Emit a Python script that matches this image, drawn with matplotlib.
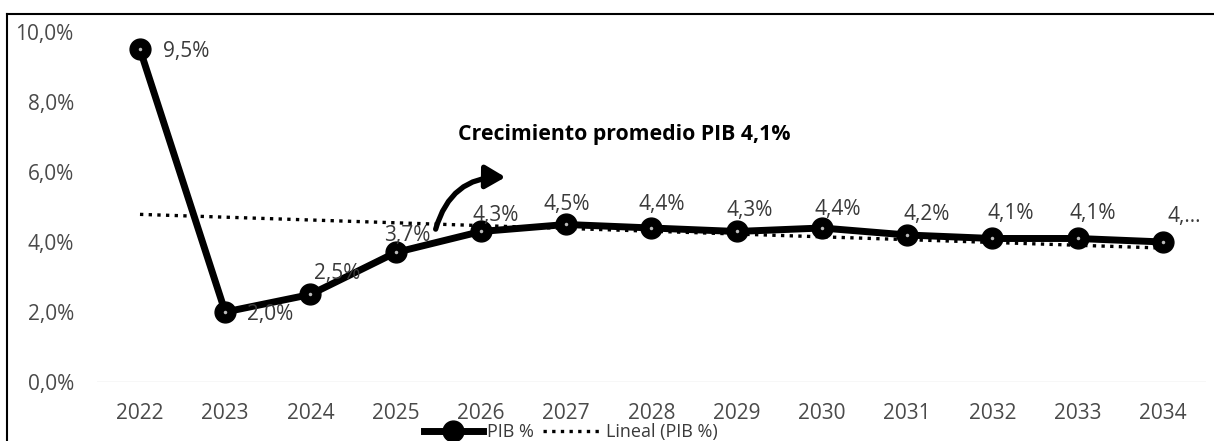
import matplotlib
matplotlib.use("Agg")
import matplotlib.pyplot as plt
import numpy as np
from matplotlib.patches import FancyArrowPatch
from matplotlib.lines import Line2D

years = ["2022", "2023", "2024", "2025", "2026", "2027", "2028", "2029",
         "2030", "2031", "2032", "2033", "2034"]
pib = [9.5, 2.0, 2.5, 3.7, 4.3, 4.5, 4.4, 4.3, 4.4, 4.2, 4.1, 4.1, 4.0]
labels = ["9,5%", "2,0%", "2,5%", "3,7%", "4,3%", "4,5%", "4,4%", "4,3%",
          "4,4%", "4,2%", "4,1%", "4,1%", "4,..."]
yticks = [0, 2, 4, 6, 8, 10]
ytick_labels = ["0,0%", "2,0%", "4,0%", "6,0%", "8,0%", "10,0%"]
title = "Crecimiento promedio PIB 4,1%"

# label offsets in pixels (dx, dy)
label_offsets = [(46, -2), (45, -3), (27, 21), (12, 17), (15, 16), (1, 20),
                 (10, 23), (13, 21), (16, 18), (20, 20), (18, 25), (15, 25), (21, 25)]

plt.rcParams['font.family'] = ['Open Sans', 'DejaVu Sans']

fig = plt.figure(figsize=(12.14, 4.41), dpi=100)
ax = fig.add_axes([0.0802, 0.1338, 0.9128, 0.7937])

x = np.arange(len(years))
coef = np.polyfit(x, pib, 1)
trend = np.polyval(coef, x)

dot = (0, (1, 1.6))
ax.plot(x, trend, linestyle=dot, color="black", lw=2.4, zorder=2)
ax.plot(x, pib, color="black", lw=5, marker="o", markersize=15,
        markerfacecolor="black", markeredgecolor="black", zorder=3)
ax.plot(x, pib, linestyle="none", marker="o", markersize=2.5,
        markerfacecolor="#bbbbbb", markeredgecolor="none", zorder=4)

for xi, yi, lab, (dx, dy) in zip(x, pib, labels, label_offsets):
    ax.annotate(lab, (xi, yi), xytext=(dx, dy), textcoords="offset pixels",
                ha="center", va="center", fontsize=15, color="#3a3a3a", zorder=5)

ax.axhline(0, color="#d9d9d9", lw=1, zorder=1)

ax.set_xlim(-0.5, len(years) - 0.5)
ax.set_ylim(0, 10)
ax.set_xticks(x)
ax.set_xticklabels(years, fontsize=15, color="#4a4a4a")
ax.set_yticks(yticks)
ax.set_yticklabels(ytick_labels, fontsize=15, color="#4a4a4a")
ax.tick_params(length=0)
ax.tick_params(axis="y", pad=17)
ax.tick_params(axis="x", pad=15)
for s in ax.spines.values():
    s.set_visible(False)

ax.text(5.68, 7.06, title, ha="center", va="center", fontsize=15.3,
        fontweight="bold", color="black")

arrow = FancyArrowPatch((3.46, 4.29), (4.32, 5.85),
                        connectionstyle="arc3,rad=-0.4",
                        arrowstyle="-|>,head_length=12,head_width=7",
                        lw=3.8, color="black", zorder=6)
ax.add_patch(arrow)

handles = [Line2D([0], [0], color="black", lw=5, marker="o", markersize=15),
           Line2D([0], [0], color="black", lw=2.4, linestyle=dot)]
fig.legend(handles, ["PIB %", "Lineal (PIB %)"], loc="center",
           bbox_to_anchor=(0.47, 0.02), ncol=2, frameon=False,
           fontsize=13, handlelength=3.3, columnspacing=0.5, handletextpad=0.2,
           labelcolor="#3a3a3a")

# outer border (top and left)
fig.add_artist(Line2D([7/1214, 7/1214], [0, 1 - 14/441], color="black", lw=1.5,
                      transform=fig.transFigure))
fig.add_artist(Line2D([7/1214, 1], [1 - 14/441, 1 - 14/441], color="black", lw=1.5,
                      transform=fig.transFigure))

fig.savefig("out.png", dpi=100)
